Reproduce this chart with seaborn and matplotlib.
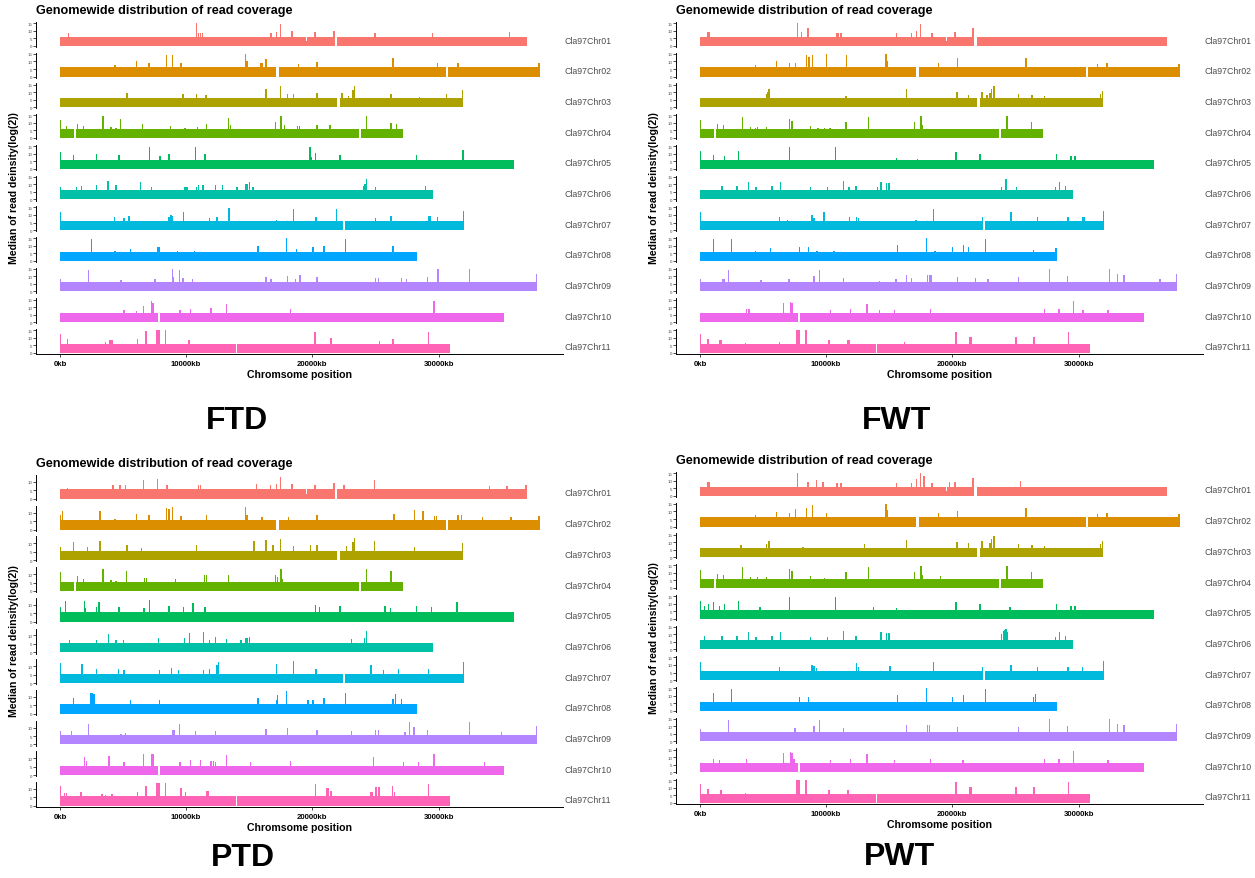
import matplotlib
matplotlib.use("Agg")
import matplotlib.pyplot as plt
import seaborn as sns

sns.set_theme(style="white")
plt.rcParams['font.family'] = ['Liberation Sans', 'DejaVu Sans']
plt.rcParams['text.color'] = 'black'

W, H = 1255, 879

chrom_names = ["Cla97Chr01", "Cla97Chr02", "Cla97Chr03", "Cla97Chr04", "Cla97Chr05", "Cla97Chr06",
               "Cla97Chr07", "Cla97Chr08", "Cla97Chr09", "Cla97Chr10", "Cla97Chr11"]
chrom_len = [37030, 38030, 31940, 27160, 35940, 29590, 32000, 28280, 37810, 35190, 30940]
colors = ["#F8766D", "#DB8E00", "#AEA200", "#64B200", "#00BD5C", "#00C1A7",
          "#00BADE", "#00A6FF", "#B385FF", "#EF67EB", "#FF63B6"]

# low-coverage stretches: (start kb, end kb, value)
gaps = [
    [(11540, 11600, 0), (19520, 19600, 3), (21720, 21970, 0)],
    [(17090, 17375, 0), (30560, 30780, 0)],
    [(21940, 22190, 0)],
    [(1090, 1250, 0), (23720, 23840, 0)],
    [], [],
    [(22440, 22590, 0)],
    [], [],
    [(7750, 7940, 0)],
    [(13940, 14010, 0)],
]

x_ticks = [0, 10000, 20000, 30000]
x_tick_labels = ["0kb", "10000kb", "20000kb", "30000kb"]

# baseline median coverage per sample
base_level = {"FTD": 6.0, "FWT": 6.0, "PTD": 5.6, "PWT": 6.0}

# peaks: (position kb, log2 median)
ftd_peaks = [
    [(625, 8.8), (10780, 15.2), (10940, 8.4), (11090, 8.4), (11250, 8.4), (16660, 8.4), (17125, 9.5), (17440, 14.6),
     (18340, 9.7), (20160, 9), (21650, 10), (24900, 8.4), (29470, 8.4), (35560, 9)],
    [(4310, 7.5), (6000, 10.4), (7000, 9.3), (8375, 14.3), (8840, 14.3), (9530, 8.8), (14660, 15.2), (14780, 10),
     (15840, 8.8), (15940, 8.8), (16280, 11.7), (18840, 8.4), (20310, 9.5), (26340, 12.1), (29840, 8.8),
     (31470, 8.8), (37900, 8.8)],
    [(5250, 9.7), (9690, 8.6), (10780, 8.6), (11530, 8.2), (15560, 6.4), (16280, 12.4), (17440, 14.3), (17970, 8.6),
     (18440, 8.6), (20310, 9.7), (22280, 9.7), (22810, 7.5), (23150, 11.5), (23280, 14.3), (26190, 8.6),
     (28440, 7), (30560, 8.6), (31820, 11.5)],
    [(0, 11.9), (470, 7.9), (1310, 9.3), (1810, 8.2), (3340, 14.6), (4000, 7.5), (4375, 6.8), (4750, 12.4),
     (6500, 9.3), (8690, 7.9), (9840, 6.8), (10840, 7.5), (11560, 9.3), (13310, 13), (13440, 8.6), (17000, 10.4),
     (17470, 14.6), (17750, 8.6), (18750, 8.2), (18940, 8.2), (20310, 8.6), (21340, 8.4), (24220, 14.6),
     (26190, 10.2), (26630, 9)],
    [(0, 11.3), (1030, 8.8), (2840, 9.5), (4625, 9), (7030, 14.6), (7875, 8.6), (8590, 9.5), (10660, 14.6),
     (11440, 9.7), (19750, 14.6), (19900, 7.9), (20190, 10.2), (22125, 8.8), (28220, 9), (31870, 12.4)],
    [(0, 7.9), (1250, 8.5), (1660, 9.1), (2840, 9.6), (3750, 12.1), (4375, 9.6), (6340, 11.3), (7220, 8.5),
     (9840, 8.5), (10000, 8.5), (10750, 8.5), (10940, 9.6), (11280, 9.6), (12280, 9.6), (12810, 9.6), (13970, 8.1),
     (14690, 10.2), (14810, 10.2), (14940, 11.3), (15250, 8.5), (24000, 8.9), (24120, 10.5), (24220, 13.8),
     (24940, 8.5), (28910, 8.9)],
    [(0, 12), (4250, 8.6), (5030, 7.9), (5410, 9), (8590, 8.6), (8750, 10), (8875, 9), (9750, 11.8), (11780, 7.7),
     (12375, 8.4), (13340, 14.6), (17090, 6.4), (18440, 14.1), (20220, 8.6), (21840, 14.1), (24940, 7.9),
     (26190, 9), (29160, 9), (29280, 9), (29880, 8.4), (31900, 12.6)],
    [(2440, 14.3), (4310, 6.6), (5530, 7.9), (7720, 9), (7810, 9), (9280, 6.6), (10625, 6.6), (15625, 9.9),
     (17910, 15), (18690, 8.1), (20000, 8.8), (20875, 9.9), (22560, 14.3), (26340, 9.9)],
    [(0, 8.4), (2190, 14.1), (4780, 7.7), (7470, 8.4), (8840, 14.8), (8940, 9.4), (9410, 14.1), (9690, 8.8),
     (10470, 8.1), (14125, 6.4), (16280, 9.9), (16660, 8.4), (17970, 10.5), (18625, 8.4), (18970, 11.1),
     (20310, 9.9), (22810, 6.4), (24940, 9.2), (25190, 9.2), (27030, 8.8), (27410, 8.1), (29060, 9.9),
     (29910, 14.8), (30560, 6.4), (32410, 14.8), (37700, 11.4)],
    [(3160, 5.9), (5030, 8.1), (6030, 7.7), (6560, 10.7), (7190, 13.9), (7310, 12.4), (9470, 8.1), (10310, 8.8),
     (11910, 9.6), (13125, 11.8), (18190, 8.8), (29590, 13.9)],
    [(0, 12.4), (560, 9), (3530, 7.1), (3910, 8.6), (4060, 8.6), (6090, 9), (6750, 14.3), (7590, 15), (7690, 15),
     (7790, 15), (8310, 15), (10160, 8.6), (20160, 13.9), (21410, 10), (25250, 7.9), (26340, 9.4), (29125, 13.9)],
]

fwt_peaks = [
    [(570, 9), (660, 9), (7650, 15.2), (7970, 9), (8500, 12.1), (10800, 8.8), (10930, 8.8), (11120, 8.8),
     (15530, 8.8), (16700, 8.8), (17100, 9.9), (17420, 14.6), (18330, 8.4), (20160, 9), (21580, 11.7)],
    [(4350, 7.7), (6020, 10.6), (7020, 9.3), (7530, 8.8), (8380, 14.3), (8570, 12.8), (8880, 14.3), (9950, 14.8),
     (11560, 14.3), (14680, 15.2), (14800, 10), (18840, 8.8), (20350, 12.1), (25770, 12.6), (31440, 8.4),
     (32190, 9.3), (37900, 8.4)],
    [(5200, 8.6), (5310, 10.4), (5420, 11.9), (11530, 7.5), (16290, 11.9), (20320, 9.9), (21200, 8.2),
     (22300, 9.9), (22680, 8.2), (22930, 9.2), (23060, 11.9), (23250, 14.1), (25200, 8.6), (26240, 8.2),
     (27250, 7.7), (31660, 8.6), (31840, 11)],
    [(0, 11.9), (1320, 9.3), (1830, 8.4), (3310, 14.1), (3940, 7.3), (4350, 6.8), (4500, 7), (5200, 7.3),
     (7020, 12.6), (7240, 11.5), (8690, 8.2), (9290, 6.4), (9830, 6.4), (10240, 6.4), (11530, 10.8),
     (13320, 14.1), (16950, 10.8), (17450, 14.6), (17580, 8.4), (24260, 14.6), (26210, 10.8)],
    [(0, 11.7), (1010, 8.8), (1890, 8.6), (3020, 11.7), (7020, 14.6), (10680, 14.6), (15530, 7.3), (17170, 6.2),
     (20220, 10.8), (22140, 9.5), (28220, 9.5), (29330, 8.4), (29670, 8.4)],
    [(1700, 8.9), (2870, 8.9), (3780, 11.7), (4380, 8.5), (5640, 8.9), (6330, 11.7), (8690, 8.5), (10050, 8.5),
     (11310, 12.1), (11750, 8.5), (12320, 8.9), (13990, 8.1), (14300, 11.3), (14740, 10.6), (14930, 10.6),
     (23850, 8.5), (24190, 13.8), (25040, 8.1), (28130, 8.1), (28410, 11.7), (28890, 9.1)],
    [(0, 12), (6270, 8.4), (6870, 6.4), (8820, 10.3), (8980, 7.9), (9770, 12), (11780, 8.4), (12350, 8.6),
     (12500, 7.9), (17070, 6.4), (18460, 14.1), (22330, 8.4), (24600, 12), (26680, 8.6), (29110, 8.4),
     (30240, 8.6), (30370, 8.6), (31900, 12.6)],
    [(1040, 14.1), (2460, 14.3), (4350, 6.6), (5510, 8.3), (7810, 8.8), (8540, 8.8), (9230, 6.6), (10560, 6.6),
     (15590, 10.5), (17890, 15.2), (18580, 6.6), (19940, 9), (20820, 10.5), (21200, 8.8), (22550, 14.3),
     (26370, 7.3), (28150, 8.3)],
    [(0, 8.4), (1730, 8.4), (1860, 8.4), (2200, 14.1), (4790, 7.7), (6990, 8.4), (8980, 10.3), (9420, 14.1),
     (11340, 8.6), (14150, 6.6), (15470, 8.4), (16290, 10.9), (16700, 8.6), (17990, 11.1), (18110, 11.1),
     (18240, 11.1), (20350, 9.9), (21770, 8.6), (22770, 8.4), (25200, 9.9), (27630, 15.2), (29070, 10.1),
     (32380, 14.8), (33010, 11.6), (33550, 11.1), (36410, 8.4), (37700, 11.6)],
    [(3620, 8.6), (3840, 8.6), (6580, 12.4), (7120, 13.5), (7240, 12.4), (10300, 8.1), (11880, 8.8),
     (13170, 11.9), (14180, 8.1), (15340, 8.1), (18210, 8.8), (27250, 8.8), (28380, 8.6), (29550, 14.1),
     (30300, 8.1), (32290, 8.1)],
    [(0, 12.4), (570, 9.4), (1510, 8.4), (1610, 8.4), (3560, 6.8), (6240, 7.5), (7590, 15), (7690, 15), (7790, 15),
     (8350, 15), (10170, 8.4), (11660, 8.6), (11750, 8.6), (16130, 7.3), (20220, 13.7), (21290, 10.3),
     (21420, 10.3), (24980, 10.3), (26400, 10.3), (29140, 13.9)],
]

ptd_peaks = [
    [(560, 6.4), (4160, 8.4), (4690, 8.4), (5160, 8), (6560, 11), (7660, 11.6), (8440, 8.4), (10940, 8),
     (11090, 8), (15530, 8.6), (16620, 8.4), (17125, 9), (17440, 13), (18340, 9), (20160, 8.4), (21660, 9.6),
     (22440, 8), (24875, 11.4), (33970, 7.6), (35375, 7.6), (36875, 8)],
    [(0, 8.4), (150, 10.8), (3125, 11), (4310, 6.4), (6000, 9), (7000, 8.8), (8375, 12.8), (8590, 12.4),
     (8840, 13.4), (9530, 8), (11560, 8.8), (14660, 13.6), (14780, 8.8), (15940, 7.4), (18060, 7.4), (20310, 8.4),
     (26400, 9), (28030, 11.8), (28720, 10.8), (29620, 8), (29780, 8), (31470, 8.8), (31780, 8.4), (33440, 7.4),
     (35690, 7.4), (37900, 8)],
    [(0, 7.8), (1000, 10.8), (2125, 7.8), (3125, 11.2), (5220, 8.8), (5310, 8.8), (6410, 7.4), (10780, 8.8),
     (15310, 11.2), (16280, 11.8), (16810, 8.8), (17440, 12.4), (18440, 8.2), (19780, 8.8), (20310, 8.8),
     (22660, 8.2), (23150, 10.8), (23280, 13.2), (24875, 11.2), (28060, 7.8), (31820, 10.4)],
    [(0, 11.2), (1310, 8.6), (1810, 7.2), (3340, 12.8), (4000, 6.2), (4375, 5.8), (5220, 11.8), (6625, 7.6),
     (6810, 7.6), (9090, 7.2), (11375, 9.2), (11560, 9.2), (13310, 9.2), (17000, 9.6), (17160, 8), (17470, 12.8),
     (17600, 7.2), (24220, 12.8), (26190, 11.8)],
    [(0, 8.4), (375, 12.4), (1875, 12), (1970, 8), (2840, 8.4), (3030, 11.6), (4625, 8.6), (6590, 8), (7030, 13),
     (8590, 9), (9750, 8.6), (10500, 11), (11440, 8.6), (15560, 6), (20190, 9.6), (20500, 8.4), (22125, 9),
     (25690, 9), (26160, 8), (28220, 9), (29375, 8.4), (31400, 11.6), (33380, 5.4)],
    [(690, 7.6), (2840, 7.6), (3780, 11), (4375, 7.6), (4970, 7.6), (7750, 8.4), (9810, 8.4), (10220, 11.6),
     (11310, 12), (11780, 7.6), (12280, 9), (13125, 8), (14280, 7.6), (14690, 8.6), (14810, 8.6), (14940, 9.4),
     (23060, 8), (24090, 8.4), (24220, 12.6), (27410, 5.6)],
    [(0, 12), (1690, 11.2), (2840, 8.2), (4590, 8.2), (5030, 8), (7810, 8), (8780, 9), (9340, 8), (11340, 8),
     (11780, 8.6), (12375, 11), (12530, 12.2), (17090, 11.2), (18440, 13.2), (20220, 8.2), (24590, 10.6),
     (25560, 7.6), (26750, 8.6), (29125, 8.6), (31900, 12.2)],
    [(1030, 9.4), (2410, 12.6), (2530, 12.6), (2650, 12), (5530, 8), (7810, 8), (10560, 5.4), (15625, 9.4),
     (17090, 8), (17160, 11), (17910, 13.6), (19590, 8), (20000, 8.4), (20875, 9.4), (22560, 12.4), (26340, 9),
     (26530, 11.6), (27030, 8.6)],
    [(0, 8), (875, 8), (2190, 12.4), (4780, 6), (5160, 7), (8840, 8.4), (8970, 8.4), (9410, 12), (10690, 8),
     (12280, 7.8), (14125, 5.8), (16280, 9), (17970, 9.8), (20310, 8.4), (23060, 7.8), (24940, 8.4), (25190, 8.4),
     (27280, 7.4), (27625, 13.6), (28000, 10.4), (29060, 8.8), (32410, 13.6), (34940, 7.4), (37700, 10.8)],
    [(1875, 10.6), (2030, 8.6), (3840, 11.6), (5030, 7.6), (6560, 12.6), (7190, 12.6), (7310, 12.6), (9470, 7.6),
     (10310, 9), (11090, 9), (11910, 8.6), (12090, 8.6), (12280, 8), (13125, 12), (15060, 8), (18190, 8.4),
     (24780, 10.6), (27190, 8), (28340, 8), (29590, 12.6), (33590, 7.6)],
    [(0, 11.8), (310, 7.8), (470, 7.8), (1625, 8.4), (3280, 7), (3530, 6.4), (4060, 7), (6090, 8.4), (6750, 11.8),
     (7590, 13.6), (7690, 13.6), (7790, 13.6), (8310, 13.6), (9530, 10.8), (9910, 8.4), (11590, 8.8),
     (11690, 8.8), (20190, 12.8), (21060, 10.8), (21190, 10.8), (21410, 9), (24590, 8.4), (24690, 8.4),
     (25000, 11), (25220, 11), (26310, 11.8), (26470, 8.4), (29125, 13)],
]

pwt_peaks = [
    [(570, 9), (660, 9), (7650, 15.2), (8500, 9), (9190, 10.5), (9700, 9), (10800, 8.8), (11120, 8.8),
     (15530, 8.8), (16700, 8.8), (17100, 11.5), (17420, 15.2), (17700, 13), (18330, 8.4), (19720, 9),
     (20160, 9), (21580, 11.7), (25340, 10)],
    [(4350, 7.7), (6020, 9.5), (7020, 9.3), (7530, 11.5), (8380, 12.5), (8880, 14.3), (9950, 8.8), (14680, 15),
     (14800, 11), (18840, 8.8), (20350, 10), (25770, 12.6), (31440, 8.4), (32190, 9.3), (37900, 8.4)],
    [(3200, 8), (5200, 8.6), (5420, 11), (8100, 7), (13000, 8.6), (16290, 11.5), (20320, 9.9), (21200, 9.5),
     (22300, 10.5), (22930, 9.2), (23060, 11.9), (23250, 14.1), (25200, 8.6), (26240, 8.2), (27250, 7.7),
     (31660, 8.6), (31840, 11)],
    [(0, 11.9), (1320, 9.3), (1830, 8.4), (3310, 14.1), (3940, 7.3), (4500, 7.5), (5200, 7.3), (7020, 12.6),
     (7240, 11.5), (8690, 8.2), (9830, 6.4), (11530, 10.8), (13320, 14.1), (16950, 10.8), (17450, 14.6),
     (17580, 8.4), (19000, 8), (24260, 14.6), (26210, 10.8)],
    [(0, 11.7), (300, 8.4), (600, 9.6), (1010, 10.8), (1500, 8.6), (1890, 9.6), (3020, 11.7), (4700, 8),
     (7020, 14.6), (10680, 14.6), (13690, 8), (15530, 7.3), (20220, 10.8), (22140, 9.5), (24500, 8),
     (28220, 9.5), (29330, 8.4), (29670, 8.4)],
    [(300, 9), (1700, 8.9), (2870, 8.9), (3780, 11.7), (4380, 8.5), (5640, 8.9), (6330, 11.7), (8690, 8.5),
     (10050, 8.5), (11310, 12.1), (12320, 8.9), (14300, 11.3), (14740, 10.6), (14930, 10.6), (23850, 10.5),
     (24000, 12), (24100, 13), (24190, 13.8), (24300, 11.5), (28130, 8.1), (28410, 11.7), (28890, 9.1)],
    [(0, 12), (6270, 8.4), (8820, 10.3), (8980, 9), (9200, 8), (12350, 11), (12500, 8.6), (15000, 9),
     (18460, 12), (22330, 8.4), (24600, 10), (26680, 8.6), (29110, 8.4), (30240, 8.6), (31900, 12.6)],
    [(1040, 12), (2460, 14.3), (7810, 8.8), (8540, 8.8), (15590, 10.5), (17890, 15.2), (19940, 9),
     (20820, 10.5), (22550, 14.3), (26370, 9), (26530, 11)],
    [(0, 8.4), (2200, 14.1), (7470, 9), (8980, 10.3), (9420, 14.1), (11340, 8.6), (16290, 10.9), (17990, 11.1),
     (18110, 11.1), (20350, 9.9), (25200, 9.9), (27630, 15.2), (29070, 10.1), (32380, 14.8), (33010, 11.6),
     (33550, 11.1), (37700, 11.6)],
    [(1000, 8.6), (1500, 8), (3620, 8.6), (6580, 12.4), (7120, 13.5), (7240, 12.4), (7400, 9), (10300, 8.1),
     (11880, 8.8), (13170, 11.9), (15340, 8.1), (18210, 8.8), (20800, 8), (27250, 8.8), (28380, 8.6),
     (29550, 14.1), (32290, 8.1)],
    [(0, 12.4), (570, 9.4), (1610, 8.4), (3560, 6.8), (7590, 15), (7690, 15), (7790, 15), (8350, 15),
     (10170, 8.4), (11660, 8.6), (20220, 13.7), (21290, 10.3), (21420, 10.3), (24980, 10.3), (26400, 10.3),
     (29140, 13.9)],
]

samples = [
    # name, peaks, x offset px, y offset px, label position px
    ("FTD", ftd_peaks, 0, 0, (237, 421)),
    ("FWT", fwt_peaks, 640, 0, (897, 421)),
    ("PTD", ptd_peaks, 0, 453, (243, 858)),
    ("PWT", pwt_peaks, 640, 450, (900, 857)),
]

fig = plt.figure(figsize=(W / 100, H / 100), dpi=100)


def px_axes(left, top, width, height):
    return fig.add_axes([left / W, 1 - (top + height) / H, width / W, height / H])


def draw_sample(name, peaks, dx, dy, label_xy):
    base = base_level[name]
    ymax = max(h for chrom in peaks for _, h in chrom)
    ylim = (-0.05 * ymax, 1.04 * ymax)
    left, width = 36 + dx, 527
    top0, pitch, h = 23 + dy, 30.7, 25
    for i, chrom in enumerate(chrom_names):
        ax = px_axes(left, top0 + i * pitch, width, h)
        ax.set_facecolor("none")
        c = colors[i]
        # baseline coverage, interrupted by low-coverage stretches
        starts, widths, levels = [], [], []
        cur = 0
        for g0, g1, gv in gaps[i]:
            starts += [cur, g0]
            widths += [g0 - cur, g1 - g0]
            levels += [base, gv]
            cur = g1
        starts.append(cur)
        widths.append(chrom_len[i] - cur)
        levels.append(base)
        ax.bar(starts, levels, width=widths, align="edge", color=c, linewidth=0)
        pos = [p for p, _ in peaks[i]]
        hts = [v for _, v in peaks[i]]
        ax.bar(pos, hts, width=110, align="edge", color=c, linewidth=0)
        ax.set_xlim(-1900, 39860)
        ax.set_ylim(*ylim)
        last = i == len(chrom_names) - 1
        sns.despine(ax=ax, bottom=not last)
        for side in ("left", "bottom"):
            ax.spines[side].set_linewidth(0.7)
            ax.spines[side].set_color("black")
        ax.set_yticks([t for t in (0, 5, 10, 15) if t <= ylim[1]])
        ax.tick_params(axis="y", labelsize=3.2, length=2, width=0.5, pad=0.8,
                       colors="black", labelcolor="#4d4d4d", left=True)
        if last:
            ax.set_xticks(x_ticks)
            ax.set_xticklabels(x_tick_labels, fontsize=5.6, fontweight="bold", color="black")
            ax.tick_params(axis="x", length=2.5, width=0.6, pad=2, bottom=True)
            ax.set_xlabel("Chromsome position", fontsize=7.6, fontweight="bold", labelpad=1.5,
                          color="black")
        else:
            ax.set_xticks([])
        ax.text(1.003, 0.28, chrom, transform=ax.transAxes, ha="left", va="center",
                fontsize=6.3, color="#4d4d4d")
    fig.text((dx + 36) / W, 1 - (dy + 11) / H, "Genomewide distribution of read coverage",
             fontsize=9.1, fontweight="bold", ha="left", va="center", color="black")
    fig.text((dx + 14) / W, 1 - (dy + 188) / H, "Median of read deinsity(log(2))",
             fontsize=7.6, fontweight="bold", rotation=90, ha="center", va="center", color="black")
    fig.text(label_xy[0] / W, 1 - label_xy[1] / H, name, fontsize=23, fontweight="bold",
             ha="center", va="center", color="black")


for s in samples:
    draw_sample(*s)

fig.savefig("out.png", dpi=100, facecolor="white")
